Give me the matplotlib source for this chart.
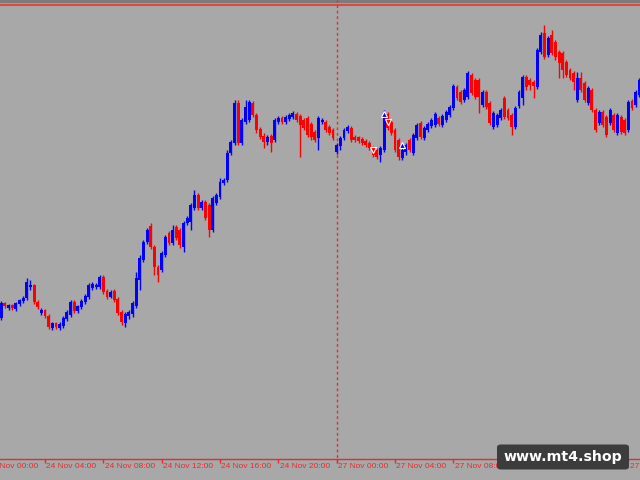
import numpy as np
import matplotlib.pyplot as plt
from matplotlib.patches import FancyBboxPatch

# 15 minute bars, price in points; first visible bar is bar 4 after 24 Nov 00:00
first_bar = 4
open_ = [162, 177, 172, 175, 171, 176, 179, 182, 193, 195, 178, 167, 170, 164, 152, 157, 152, 154, 161, 165,
         178, 169, 173, 178, 183, 192, 193, 193, 203, 189, 183, 189, 181, 168, 157, 164, 166, 174, 200, 220,
         238, 254, 233, 213, 210, 225, 247, 237, 253, 250, 233, 257, 258, 272, 285, 272, 278, 275, 250, 277,
         283, 297, 300, 327, 337, 377, 337, 358, 360, 377, 365, 351, 344, 338, 344, 340, 358, 362, 358, 361,
         363, 366, 364, 360, 362, 356, 348, 342, 358, 358, 353, 350, 328, 334, 342, 349, 352, 343, 343, 341,
         339, 337, 332, 330, 325, 330, 366, 358, 350, 340, 322, 328, 340, 327, 342, 357, 342, 350, 354, 355,
         362, 355, 360, 365, 372, 393, 388, 380, 383, 405, 400, 400, 375, 388, 377, 353, 355, 362, 382, 370,
         365, 353, 374, 382, 403, 400, 398, 393, 428, 447, 425, 445, 438, 428, 427, 418, 410, 407, 380, 402,
         397, 377, 390, 370, 357, 368, 363, 357, 365, 347, 363, 360, 350, 379, 375, 385]
high = [179, 178, 176, 176, 178, 181, 184, 202, 200, 196, 180, 172, 171, 166, 158, 158, 158, 164, 170, 180,
        180, 175, 181, 186, 197, 198, 197, 205, 205, 191, 190, 191, 183, 170, 168, 170, 179, 208, 225, 240,
        252, 257, 235, 215, 229, 245, 249, 255, 255, 252, 259, 264, 277, 290, 287, 280, 280, 277, 284, 287,
        302, 302, 330, 340, 380, 380, 362, 380, 380, 379, 367, 353, 347, 345, 346, 362, 364, 364, 365, 367,
        369, 368, 366, 362, 364, 358, 350, 364, 362, 360, 355, 352, 337, 344, 352, 355, 354, 345, 344, 343,
        341, 339, 334, 332, 334, 370, 368, 360, 352, 342, 332, 337, 342, 347, 357, 359, 354, 358, 362, 368,
        364, 366, 370, 375, 396, 395, 390, 392, 409, 407, 402, 402, 390, 390, 379, 369, 367, 372, 384, 372,
        367, 374, 390, 405, 405, 402, 400, 432, 448, 455, 444, 450, 440, 430, 429, 420, 412, 409, 408, 408,
        399, 394, 392, 372, 370, 370, 365, 372, 367, 367, 365, 362, 380, 381, 390, 402]
low = [160, 172, 170, 170, 169, 174, 177, 180, 190, 176, 171, 165, 162, 151, 150, 151, 150, 152, 159, 163,
       167, 167, 171, 176, 181, 190, 191, 191, 186, 181, 182, 178, 165, 155, 153, 161, 163, 172, 190, 218,
       236, 231, 205, 198, 208, 223, 235, 235, 240, 232, 228, 255, 250, 270, 270, 270, 260, 243, 248, 275,
       281, 295, 298, 325, 335, 335, 335, 356, 358, 363, 347, 341, 332, 335, 328, 338, 356, 356, 356, 359,
       361, 358, 323, 350, 343, 340, 338, 330, 356, 348, 345, 340, 326, 330, 340, 347, 338, 338, 337, 335,
       333, 330, 323, 321, 318, 328, 350, 345, 328, 320, 320, 325, 328, 325, 340, 341, 340, 348, 352, 353,
       354, 353, 358, 363, 370, 380, 376, 378, 381, 385, 381, 367, 373, 371, 355, 351, 353, 360, 361, 360,
       345, 351, 372, 375, 390, 390, 382, 391, 426, 421, 423, 425, 420, 402, 402, 403, 400, 390, 378, 388,
       378, 375, 368, 348, 355, 353, 343, 355, 348, 345, 346, 345, 348, 370, 373, 383]
close = [177, 174, 175, 172, 177, 180, 182, 198, 195, 178, 173, 170, 164, 153, 157, 153, 156, 162, 168, 178,
         169, 174, 179, 184, 195, 196, 195, 203, 188, 183, 188, 180, 167, 158, 166, 168, 177, 202, 222, 238,
         250, 233, 213, 205, 227, 243, 237, 250, 242, 235, 257, 262, 275, 285, 272, 278, 262, 250, 282, 285,
         298, 300, 327, 338, 377, 337, 360, 373, 378, 365, 350, 343, 338, 343, 337, 360, 362, 358, 363, 365,
         367, 360, 355, 352, 345, 343, 340, 362, 360, 350, 347, 342, 335, 342, 350, 353, 340, 340, 339, 337,
         335, 332, 325, 323, 332, 367, 352, 347, 330, 323, 330, 335, 330, 345, 355, 343, 352, 356, 360, 366,
         356, 364, 368, 373, 394, 382, 378, 390, 407, 387, 383, 383, 388, 373, 357, 367, 365, 370, 363, 362,
         353, 372, 388, 403, 393, 395, 394, 430, 445, 423, 442, 427, 423, 417, 410, 405, 402, 398, 402, 390,
         380, 392, 370, 350, 368, 355, 345, 370, 350, 365, 348, 347, 378, 372, 388, 400]

tick_bars = [0, 16, 32, 48, 64, 80, 96, 112, 128, 144, 160, 176]
tick_labels = ["24 Nov 00:00", "24 Nov 04:00", "24 Nov 08:00", "24 Nov 12:00", "24 Nov 16:00",
               "24 Nov 20:00", "27 Nov 00:00", "27 Nov 04:00", "27 Nov 08:00", "27 Nov 12:00",
               "27 Nov 16:00", "27 Nov 20:00"]
separator_bar = 96

# indicator arrows
signal_bars = [106, 109, 110, 114]
signal_price = [330, 366, 358, 335]
signal_up = [False, True, False, True]

bg = '#a8a8a8'
bull = '#0000ff'
bear = '#ff0000'
axis_red = '#e82a2a'

fig = plt.figure(figsize=(6.4, 4.8), dpi=100)
fig.patch.set_facecolor(bg)
ax = fig.add_axes([0, 0, 1, 1])
ax.set_facecolor(bg)
ax.set_xlim(3.65, 179.2)
ax.set_ylim(0, 480)
ax.axis('off')

o = np.array(open_)
h = np.array(high)
l = np.array(low)
c = np.array(close)
x = np.arange(first_bar, first_bar + len(o))
cols = np.where(c >= o, bull, bear)

ax.vlines(x, l, h, colors=cols, linewidth=1.0, zorder=3)
body = np.maximum(np.abs(c - o), 1.5)
ax.bar(x, body, bottom=np.minimum(o, c), width=0.8, color=cols, linewidth=0, zorder=4)

for b, p, up in zip(signal_bars, signal_price, signal_up):
    ax.plot(b, p, marker='^' if up else 'v', ms=5, color=bull if up else bear,
            markeredgecolor='white', markeredgewidth=0.8, zorder=6)

# frame lines
ax.axhspan(478.5, 480, color='#7c7c7c', zorder=1)
ax.axhline(475.3, color='#e04848', linewidth=1.5, zorder=2)
ax.axhline(21.3, color=axis_red, linewidth=1.0, zorder=2)
ax.vlines(separator_bar, 17, 480, colors=axis_red, linestyles=(0, (2, 2)), linewidth=1.0, zorder=2)

for tb, lab in zip(tick_bars, tick_labels):
    ax.vlines(tb, 17, 21.3, colors=axis_red, linewidth=1.0)
    ax.text(tb + 0.35, 13.3, lab, color=axis_red, fontsize=6.0, family='Liberation Sans',
            ha='left', va='center', clip_on=False)

# watermark
fig.patches.append(FancyBboxPatch((497 / 640, 10.5 / 480), 132 / 640, 25 / 480,
                                  boxstyle='round,pad=0,rounding_size=0.006',
                                  transform=fig.transFigure, facecolor='#3c3c3c',
                                  edgecolor='none', zorder=8, figure=fig))
fig.text(563 / 640, 23 / 480, 'www.mt4.shop', color='white', fontsize=10.2, fontweight='bold',
         ha='center', va='center', zorder=9)

fig.savefig('out.png', dpi=100, facecolor=bg)
